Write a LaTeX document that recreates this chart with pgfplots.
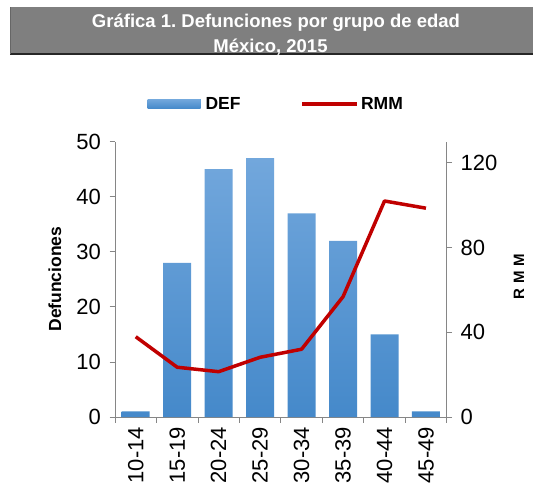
\documentclass[border=0pt]{standalone}
\usepackage{fontspec}
\setmainfont{Liberation Sans}
\usepackage{pgfplots}
\pgfplotsset{compat=1.18}
\frenchspacing
\definecolor{axisgray}{HTML}{868686}
\definecolor{barTop}{HTML}{72A7DC}
\definecolor{barBot}{HTML}{4589CA}
\definecolor{barMid}{HTML}{5B9BD5}
\definecolor{rmmred}{HTML}{C00000}
\definecolor{titlegray}{HTML}{7F7F7F}
\begin{document}
\begin{tikzpicture}
\path[use as bounding box] (0,0) rectangle (533pt,485pt);
\fill[titlegray] (10pt,430.5pt) rectangle (533pt,477.7pt);
\draw[black!85, line width=1.6pt] (10pt,431pt) -- (533pt,431pt);
\draw[black!60, line width=1pt] (10.5pt,431pt) -- (10.5pt,477.7pt);
\node[anchor=base, text=white, font=\fontsize{18.5}{21}\selectfont\bfseries, inner sep=0pt] at (276pt,457.7pt) {Gráfica 1. Defunciones por grupo de edad};
\node[anchor=base, text=white, font=\fontsize{18.5}{21}\selectfont\bfseries, inner sep=0pt] at (270.5pt,432.6pt) {México, 2015};
\begin{axis}[
  at={(115pt,68pt)}, anchor=south west,
  scale only axis, width=331.7pt, height=275.3pt,
  xmin=-0.5, xmax=7.5, ymin=0, ymax=50,
  axis y line*=left, axis x line*=bottom,
  axis line style={axisgray, line width=0.8pt},
  xtick={0,...,7},
  xticklabels={10-14,15-19,20-24,25-29,30-34,35-39,40-44,45-49},
  major x tick style={draw=none},
  minor xtick={-0.5,0.5,...,7.5},
  minor x tick style={axisgray, line width=0.8pt},
  minor tick length=5.5pt,
  major tick length=5.5pt,
  tick align=outside,
  ytick={0,10,...,50},
  y tick style={axisgray, line width=0.8pt},
  tick label style={font=\fontsize{22}{22}\selectfont},
  /pgf/number format/assume math mode=true,
  xticklabel style={rotate=90, anchor=east, xshift=-1pt},
  yticklabel style={xshift=-5pt},
  ylabel={Defunciones},
  every axis y label/.style={at={(axis description cs:-0.181,0.501)}, rotate=90, anchor=center, font=\fontsize{17.5}{20}\selectfont\bfseries},
  legend columns=2,
  legend style={draw=none, fill=none, at={(0.486,1.137)}, anchor=center,
     font=\fontsize{17.5}{20}\selectfont\bfseries,
     /tikz/every even column/.append style={column sep=58pt},
     inner sep=0pt},
  legend cell align=left,
]
\addplot[ybar, bar width=28pt, draw=none, top color=barTop, bottom color=barBot,
  legend image code/.code={\fill[barMid] (0pt,-4.5pt) rectangle (53pt,4.5pt);}]
  coordinates {(0,1) (1,28) (2,45) (3,47) (4,37) (5,32) (6,15) (7,1)};
\addlegendentry{\hspace{3pt}DEF}
\addlegendimage{legend image code/.code={\draw[rmmred, line width=3.5pt] (0pt,0pt) -- (55pt,0pt);}}
\addlegendentry{RMM}
\end{axis}
\begin{axis}[
  at={(115pt,68pt)}, anchor=south west,
  scale only axis, width=331.7pt, height=275.3pt,
  xmin=-0.5, xmax=7.5, ymin=0, ymax=130,
  axis y line*=right, axis x line=none,
  axis line style={axisgray, line width=0.8pt},
  ytick={0,40,80,120},
  major tick length=5.5pt,
  tick align=outside,
  y tick style={axisgray, line width=0.8pt},
  tick label style={font=\fontsize{22}{22}\selectfont},
  /pgf/number format/assume math mode=true,
  yticklabel style={xshift=5pt},
  ylabel={R\,\,M\,\,M},
  every axis y label/.style={at={(axis description cs:1.218,0.51)}, rotate=90, anchor=center, font=\fontsize{15}{17}\selectfont\bfseries},
]
\addplot[rmmred, line width=3.5pt, line join=round]
  coordinates {(0,37.9) (1,23.5) (2,21.4) (3,28.2) (4,32.0) (5,56.8) (6,102) (7,98.6)};
\end{axis}
\end{tikzpicture}
\end{document}
